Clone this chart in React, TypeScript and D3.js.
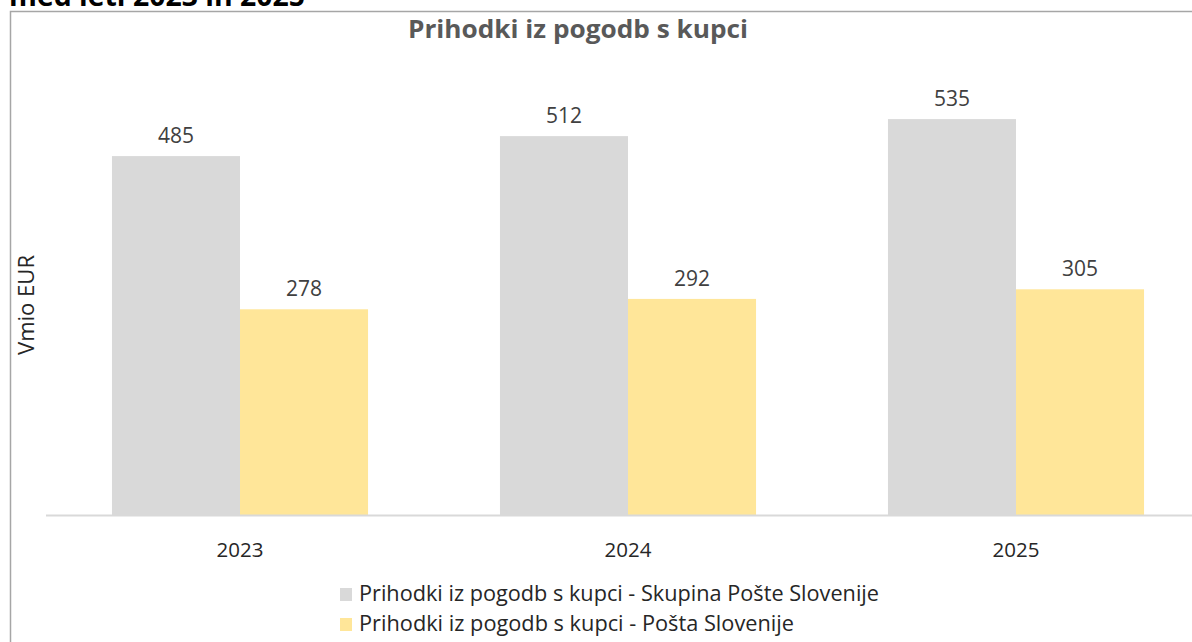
import React from "react";
import * as d3 from "d3";

const years = ["2023", "2024", "2025"];
const seriesNames = [
  "Prihodki iz pogodb s kupci - Skupina Pošte Slovenije",
  "Prihodki iz pogodb s kupci - Pošta Slovenije",
];
const skupinaValues = [485, 512, 535];
const postaValues = [278, 292, 305];
const colors = ["#D9D9D9", "#FFE699"];
const chartTitle = "Prihodki iz pogodb s kupci";
const pageHeading = "med leti 2023 in 2025";
const yAxisTitle = "Vmio EUR";

const W = 1192;
const H = 642;
const FONT = "'Open Sans', 'Noto Sans', sans-serif";
const legendWidths = [520, 435];

export default function App() {
  const series = [skupinaValues, postaValues];
  const x = d3.scaleBand<string>().domain(years).range([46, 1210]).paddingInner(0.34).paddingOuter(0.17);
  const xs = d3.scaleBand<number>().domain([0, 1]).range([0, x.bandwidth()]);
  const y = d3.scaleLinear().domain([0, 600]).range([515, 71]);

  return (
    <svg width={W} height={H} style={{ position: "absolute", left: 0, top: 0, background: "#fff" }} fontFamily={FONT}>
      <text x={9} y={6} fontSize={28} fontWeight={700} fill="#000" textLength={296} lengthAdjust="spacingAndGlyphs">{pageHeading}</text>
      <rect x={10.5} y={11.5} width={W + 20} height={H + 20} fill="#fff" stroke="#A6A6A6" strokeWidth={1.5} />
      <text x={578} y={38} textAnchor="middle" fontSize={25} fontWeight={700} fill="#595959" textLength={340} lengthAdjust="spacingAndGlyphs">{chartTitle}</text>
      <text transform={`translate(34,305) rotate(-90)`} textAnchor="middle" fontSize={21} fill="#262626" textLength={100} lengthAdjust="spacingAndGlyphs">{yAxisTitle}</text>
      {years.map((yr, i) => (
        <g key={yr}>
          {series.map((vals, s) => (
            <g key={s}>
              <rect
                x={(x(yr) as number) + (xs(s) as number)}
                y={y(vals[i])}
                width={xs.bandwidth()}
                height={y(0) - y(vals[i])}
                fill={colors[s]}
              />
              <text
                x={(x(yr) as number) + (xs(s) as number) + xs.bandwidth() / 2}
                y={y(vals[i]) - 13}
                textAnchor="middle"
                fontSize={21}
                fill="#404040"
              >
                {vals[i]}
              </text>
            </g>
          ))}
          <text x={(x(yr) as number) + x.bandwidth() / 2} y={557} textAnchor="middle" fontSize={20.5} fill="#262626">{yr}</text>
        </g>
      ))}
      <line x1={46} x2={W} y1={515.5} y2={515.5} stroke="#D9D9D9" strokeWidth={2} />
      {seriesNames.map((name, s) => (
        <g key={name}>
          <rect x={340} y={588 + s * 30} width={12} height={13} fill={colors[s]} />
          <text x={359} y={601 + s * 30} fontSize={21} fill="#262626" textLength={legendWidths[s]} lengthAdjust="spacingAndGlyphs">{name}</text>
        </g>
      ))}
    </svg>
  );
}
